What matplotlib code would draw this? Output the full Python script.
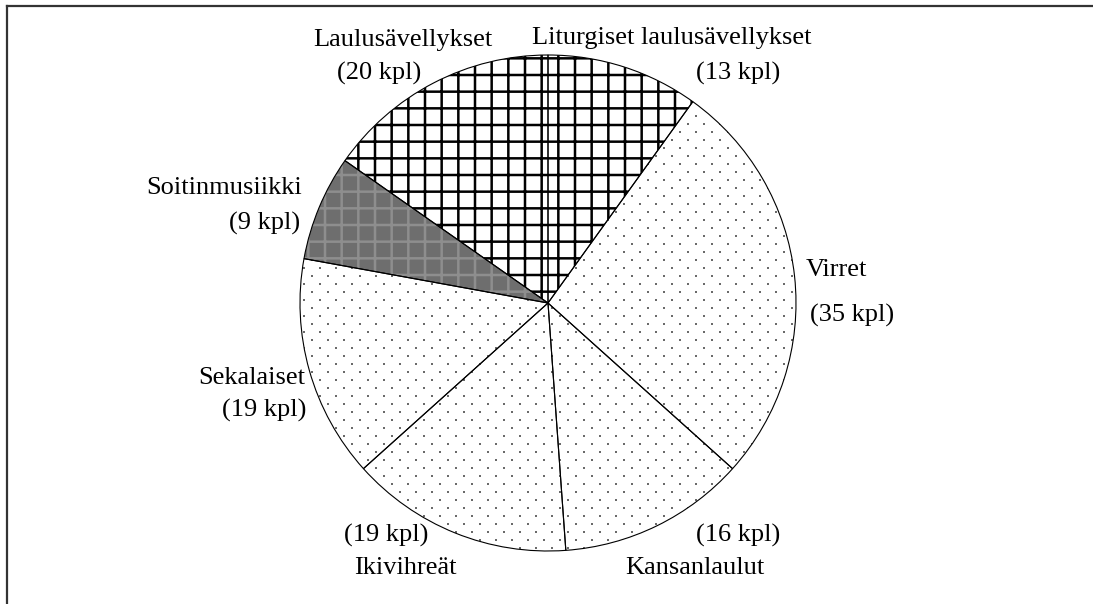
import numpy as np
import matplotlib.pyplot as plt

plt.rcParams['font.family'] = ['Liberation Serif', 'DejaVu Serif']
plt.rcParams['hatch.linewidth'] = 1.8

# data (clockwise from the top)
names = ['Liturgiset laulusävellykset', 'Virret', 'Kansanlaulut', 'Ikivihreät',
         'Sekalaiset', 'Soitinmusiikki', 'Laulusävellykset']
counts = [13, 35, 16, 19, 19, 9, 20]

W, H = 1093, 604
fig = plt.figure(figsize=(W / 100, H / 100), dpi=100)
ax = fig.add_axes([0, 0, 1, 1])

cx, cy, r = 548, H - 303, 248

# fills
styles = ['grid', 'dots', 'dots', 'dots', 'dots', 'dark', 'grid']
wedges, _ = ax.pie(counts, startangle=90, counterclock=False, center=(cx, cy),
                   radius=r, frame=True, wedgeprops=dict(linewidth=0))

# dot lattice for the dotted slices
gx, gy = np.meshgrid(np.arange(0, W, 16.0), np.arange(0, H, 8.0))
gx[1::2] += 8
for w, st in zip(wedges, styles):
    if st == 'grid':
        w.set_facecolor('white')
        w.set_edgecolor('black')
        w.set_hatch('+')
    elif st == 'dark':
        w.set_facecolor('#6e6e6e')
        w.set_edgecolor('#8e8e8e')
        w.set_hatch('+')
    else:
        w.set_facecolor('white')
        sc = ax.scatter(gx.ravel(), gy.ravel(), s=4, marker='s', c='#6a6a6a',
                        linewidths=0, zorder=3)
        sc.set_clip_path(w)

# outlines
ax.pie(counts, startangle=90, counterclock=False, center=(cx, cy), radius=r,
       frame=True, wedgeprops=dict(fill=False, edgecolor='black', linewidth=0.8,
                                   zorder=4))
ax.set_xlim(0, W)
ax.set_ylim(0, H)
ax.set_aspect('equal')
ax.axis('off')

# labels, positions in pixels from the top-left
fs = 19
def label(x, y, s, ha='center'):
    ax.text(x, H - y, s, ha=ha, va='center', fontsize=fs)

label(672, 38, names[0])
label(738, 73, '(%d kpl)' % counts[0])
label(403, 40, names[6])
label(379, 73, '(%d kpl)' % counts[6])
label(302, 188, names[5], 'right')
label(300, 223, '(%d kpl)' % counts[5], 'right')
label(305, 378, names[4], 'right')
label(306, 410, '(%d kpl)' % counts[4], 'right')
label(386, 535, '(%d kpl)' % counts[3])
label(405, 568, names[3])
label(738, 535, '(%d kpl)' % counts[2])
label(695, 568, names[2])
label(836, 270, names[1])
label(852, 315, '(%d kpl)' % counts[1])

# frame: top and left only
ax.plot([7, W], [H - 6, H - 6], color='#333333', linewidth=1.6, clip_on=False)
ax.plot([7, 7], [H - 6, 0], color='#333333', linewidth=1.6, clip_on=False)

fig.savefig('out.png', dpi=100)
